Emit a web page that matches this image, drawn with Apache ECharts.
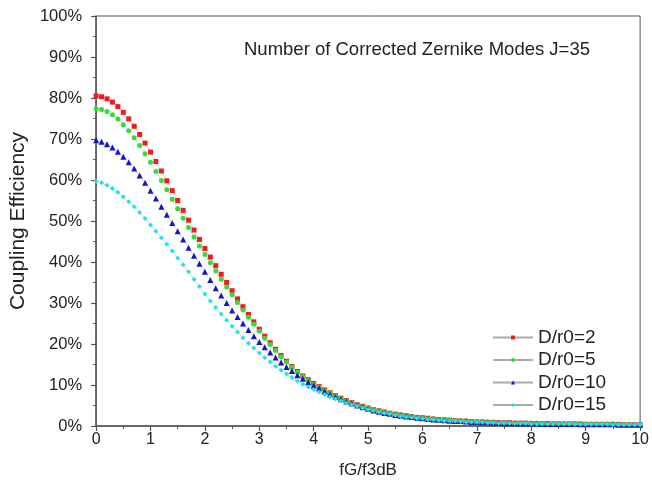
<!DOCTYPE html>
<html>
<head>
<meta charset="utf-8">
<script src="https://cdn.jsdelivr.net/npm/echarts@6/dist/echarts.min.js"></script>
<style>html,body{margin:0;padding:0;background:#fff}#c{width:652px;height:488px}</style>
</head>
<body>
<div id="c"></div>
<script>
const titleText = 'Number of Corrected Zernike Modes J=35';
const seriesNames = ['D/r0=2', 'D/r0=5', 'D/r0=10', 'D/r0=15'];
const xs = [0,0.1,0.2,0.3,0.4,0.5,0.6,0.7,0.8,0.9,
1,1.1,1.2,1.3,1.4,1.5,1.6,1.7,1.8,1.9,
2,2.1,2.2,2.3,2.4,2.5,2.6,2.7,2.8,2.9,
3,3.1,3.2,3.3,3.4,3.5,3.6,3.7,3.8,3.9,
4,4.1,4.2,4.3,4.4,4.5,4.6,4.7,4.8,4.9,
5,5.1,5.2,5.3,5.4,5.5,5.6,5.7,5.8,5.9,
6,6.1,6.2,6.3,6.4,6.5,6.6,6.7,6.8,6.9,
7,7.1,7.2,7.3,7.4,7.5,7.6,7.7,7.8,7.9,
8,8.1,8.2,8.3,8.4,8.5,8.6,8.7,8.8,8.9,
9,9.1,9.2,9.3,9.4,9.5,9.6,9.7,9.8,9.9,
10];
const dr2 = [80.5,80.3,79.8,79.0,77.9,76.5,74.9,73.1,71.1,69.0,
66.8,64.5,62.2,59.8,57.4,55.0,52.6,50.2,47.8,45.5,
43.3,41.2,39.1,37.0,35.0,33.0,31.0,29.1,27.2,25.4,
23.6,21.9,20.3,18.7,17.2,15.8,14.5,13.3,12.2,11.3,
10.4,9.6,8.8,8.1,7.4,6.8,6.2,5.7,5.2,4.8,
4.4,4.0,3.7,3.4,3.1,2.9,2.7,2.5,2.3,2.1,
2.0,1.9,1.7,1.6,1.5,1.4,1.3,1.2,1.2,1.1,
1.0,1.0,0.9,0.9,0.8,0.8,0.8,0.7,0.7,0.7,
0.6,0.6,0.6,0.6,0.5,0.5,0.5,0.5,0.5,0.5,
0.4,0.4,0.4,0.4,0.4,0.4,0.4,0.3,0.3,0.3,
0.3];
const dr5 = [77.4,77.2,76.7,75.9,74.9,73.5,72.0,70.3,68.4,66.4,
64.3,62.1,59.9,57.6,55.3,53.0,50.7,48.4,46.1,43.9,
41.8,39.8,37.8,35.8,33.9,32.0,30.1,28.3,26.5,24.8,
23.1,21.4,19.9,18.4,16.9,15.6,14.3,13.1,12.0,11.1,
10.2,9.4,8.6,7.9,7.3,6.7,6.1,5.6,5.1,4.7,
4.3,4.0,3.6,3.3,3.1,2.8,2.6,2.4,2.3,2.1,
1.9,1.8,1.7,1.6,1.5,1.4,1.3,1.2,1.1,1.1,
1.0,0.9,0.9,0.8,0.8,0.8,0.7,0.7,0.7,0.6,
0.6,0.6,0.6,0.5,0.5,0.5,0.5,0.5,0.5,0.4,
0.4,0.4,0.4,0.4,0.4,0.4,0.4,0.3,0.3,0.3,
0.3];
const dr10 = [69.7,69.3,68.7,67.9,66.9,65.7,64.3,62.8,61.1,59.3,
57.4,55.5,53.5,51.5,49.5,47.5,45.5,43.5,41.5,39.6,
37.6,35.6,33.6,31.8,30.0,28.2,26.6,25.0,23.4,21.9,
20.5,19.2,17.9,16.7,15.5,14.4,13.4,12.4,11.5,10.7,
9.9,9.2,8.4,7.7,7.1,6.5,6.0,5.5,5.0,4.6,
4.2,3.8,3.5,3.2,3.0,2.7,2.5,2.3,2.2,2.0,
1.9,1.7,1.6,1.5,1.4,1.3,1.2,1.2,1.1,1.0,
1.0,0.9,0.9,0.8,0.8,0.7,0.7,0.7,0.6,0.6,
0.6,0.6,0.5,0.5,0.5,0.5,0.5,0.5,0.5,0.4,
0.4,0.4,0.4,0.4,0.4,0.4,0.3,0.3,0.3,0.3,
0.3];
const dr15 = [59.7,59.3,58.7,57.9,57.0,55.9,54.7,53.5,52.1,50.6,
49.0,47.5,45.9,44.3,42.7,41.0,39.3,37.6,35.8,34.0,
32.2,30.5,28.9,27.3,25.8,24.3,22.9,21.5,20.2,19.0,
17.8,16.7,15.6,14.6,13.6,12.7,11.8,11.0,10.2,9.5,
8.9,8.3,7.7,7.1,6.6,6.1,5.6,5.2,4.8,4.4,
4.0,3.7,3.4,3.1,2.9,2.6,2.4,2.2,2.1,1.9,
1.8,1.6,1.5,1.4,1.3,1.2,1.2,1.1,1.0,1.0,
0.9,0.9,0.8,0.8,0.7,0.7,0.7,0.6,0.6,0.6,
0.5,0.5,0.5,0.5,0.5,0.5,0.5,0.5,0.4,0.4,
0.4,0.4,0.4,0.4,0.4,0.3,0.3,0.3,0.3,0.3,
0.3];

const allValues = [dr2, dr5, dr10, dr15];
const colors = ['#ee1c22', '#33dd33', '#1414c8', '#22e3ec'];
const symbols = ['rect', 'circle', 'triangle', 'diamond'];
const sizes = [5, 5, 6, 5];
const FONT = '"Liberation Sans", Arial, sans-serif';

const chart = echarts.init(document.getElementById('c'), null, {renderer: 'canvas'});
chart.setOption({
  animation: false,
  backgroundColor: '#fff',
  title: {
    text: titleText,
    left: 239, top: 35,
    textStyle: {fontFamily: FONT, fontSize: 18.5, fontWeight: 'normal', color: '#222'}
  },
  grid: {left: 95, right: 7, top: 16, bottom: 62, show: true, borderColor: '#555', borderWidth: 1},
  legend: {
    orient: 'vertical',
    left: 487, top: 323,
    itemWidth: 40, itemHeight: 5, itemGap: 3.5,
    textStyle: {fontFamily: FONT, fontSize: 19, color: '#222'},
    data: seriesNames
  },
  xAxis: {
    type: 'value', min: 0, max: 10, interval: 1,
    name: 'fG/f3dB', nameLocation: 'middle', nameGap: 36,
    nameTextStyle: {fontFamily: FONT, fontSize: 17, color: '#222'},
    axisLine: {lineStyle: {color: '#555', width: 1.5}},
    axisTick: {show: true, length: 5, lineStyle: {color: '#555', width: 1.2}},
    minorTick: {show: true, splitNumber: 2, length: 3, lineStyle: {color: '#555', width: 1}},
    axisLabel: {fontFamily: FONT, fontSize: 16, color: '#222', margin: 6},
    splitLine: {show: false}
  },
  yAxis: {
    type: 'value', min: 0, max: 100, interval: 10,
    name: 'Coupling Efficiency', nameLocation: 'middle', nameGap: 63,
    nameTextStyle: {fontFamily: FONT, fontSize: 21, color: '#222'},
    axisLine: {show: true, lineStyle: {color: '#555', width: 1.5}},
    axisTick: {show: true, length: 5, lineStyle: {color: '#555', width: 1.2}},
    minorTick: {show: true, splitNumber: 2, length: 3, lineStyle: {color: '#555', width: 1}},
    axisLabel: {fontFamily: FONT, fontSize: 16.5, color: '#222', margin: 14, formatter: '{value}%'},
    splitLine: {show: false}
  },
  series: allValues.map((vals, k) => ({
    name: seriesNames[k],
    type: 'line',
    data: xs.map((x, i) => [x, vals[i]]),
    symbol: symbols[k],
    symbolSize: sizes[k],
    showAllSymbol: true,
    itemStyle: {color: colors[k]},
    lineStyle: {color: '#aaa', width: 0.5},
    emphasis: {disabled: true}
  }))
});
</script>
</body>
</html>
